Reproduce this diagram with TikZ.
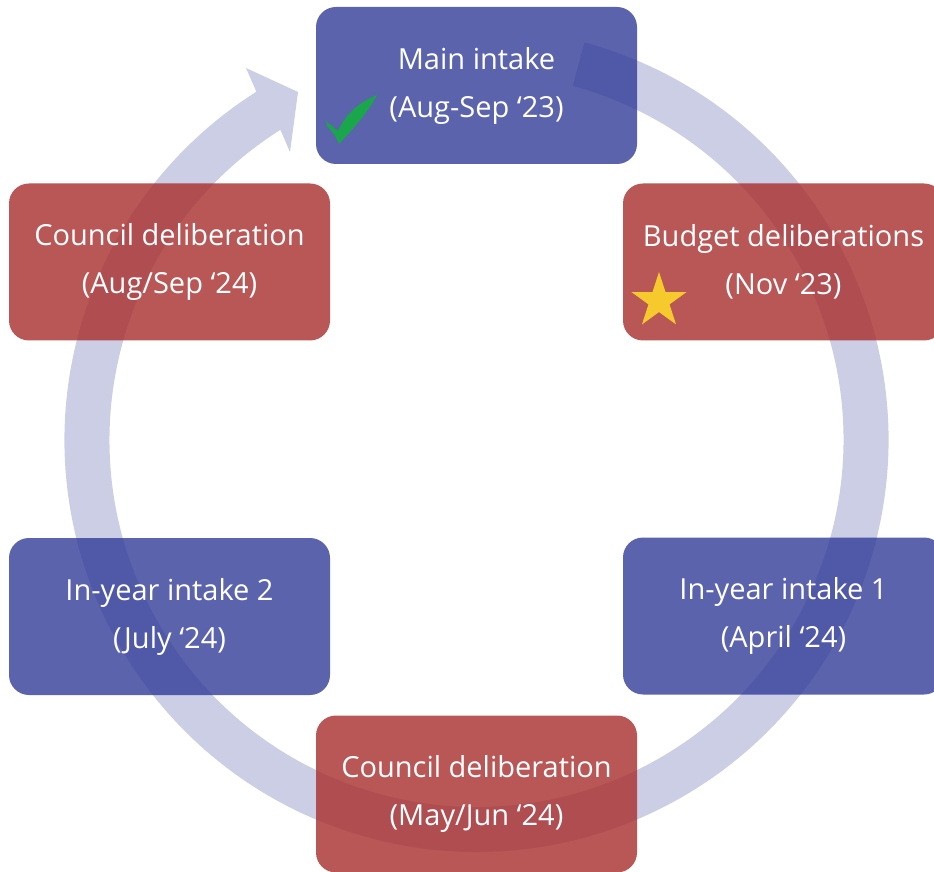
\documentclass[tikz,border=0pt]{standalone}
\usepackage{fontspec}
\setmainfont{Open Sans}
\usetikzlibrary{shapes.geometric}
\definecolor{ringc}{RGB}{203,206,229}
\definecolor{redfill}{RGB}{168,45,45}
\definecolor{bluefill}{RGB}{50,60,152}
\definecolor{checkc}{RGB}{26,166,75}
\definecolor{starc}{RGB}{246,201,44}
\tikzset{
  stagebox/.style={rounded corners=20pt, minimum width=321pt, minimum height=157pt,
    fill opacity=0.8, text opacity=1, text=white, align=center, inner sep=0pt,
    font=\fontsize{29}{48}\selectfont},
  redbox/.style={stagebox, fill=redfill},
  bluebox/.style={stagebox, fill=bluefill},
}
\begin{document}
\begin{tikzpicture}[x=1pt,y=1pt]
\useasboundingbox (0,0) rectangle (934,871);
\clip (0,0) rectangle (934,871);
% ring arrow
\begin{scope}[shift={(476.5,431)}]
\fill[ringc] (74.8:412) arc[start angle=74.8, end angle=-237.7, radius=412]
  -- (-230.5,372) -- (-178.5,348) -- (-186.5,288)
  -- (-237.7:367) arc[start angle=-237.7, end angle=74.8, radius=367] -- cycle;
\end{scope}
% stages
\node[bluebox] (main) at (476.5,785.5) {Main intake\\(Aug-Sep ‘23)};
\node[redbox] (budget) at (783.5,609) {Budget deliberations\\(Nov ‘23)};
\node[redbox] (council1) at (169.5,609) {Council deliberation\\(Aug/Sep ‘24)};
\node[bluebox] (inyear2) at (169.5,254.5) {In-year intake 2\\(July ‘24)};
\node[bluebox] (inyear1) at (783.5,255) {In-year intake 1\\(April ‘24)};
\node[redbox] (council2) at (476.5,77) {Council deliberation\\(May/Jun ‘24)};
% check mark
\fill[checkc] (326,750) -- (338,740) .. controls (345,756) and (358,768) .. (377,776)
  .. controls (368,758) and (350,739) .. (339,727)
  .. controls (336,735) and (332,740) .. (327.5,744) -- cycle;
% star
\node[star, star points=5, star point ratio=2.618, minimum size=58pt, inner sep=0pt,
  fill=starc] (starmark) at (659,570) {};
\end{tikzpicture}
\end{document}
